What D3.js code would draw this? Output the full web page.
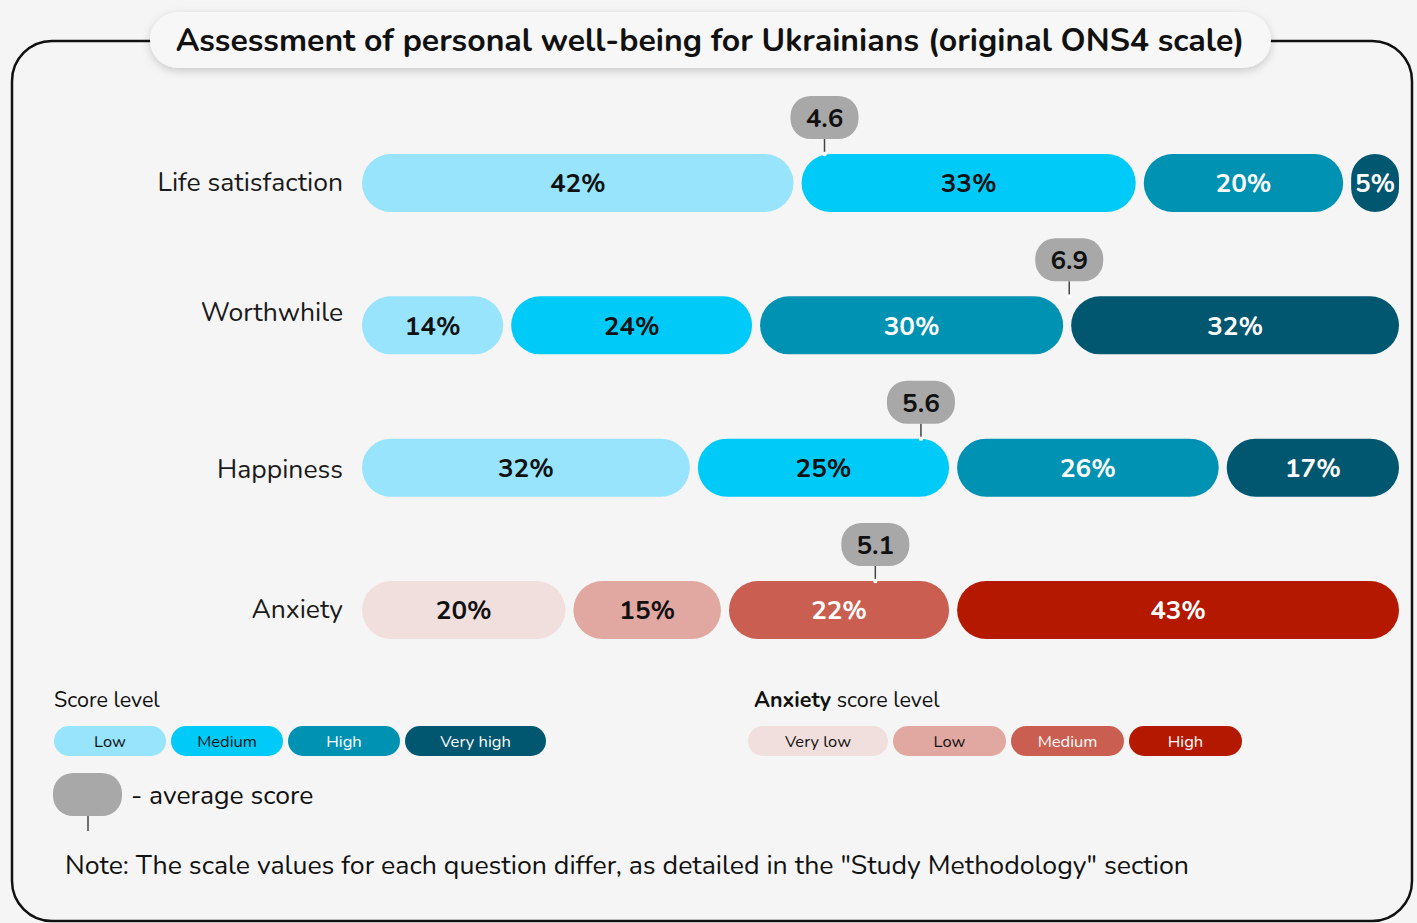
<!DOCTYPE html>
<html>
<head>
<meta charset="utf-8">
<script src="https://cdn.jsdelivr.net/npm/d3@7"></script>
<style>
  html, body { margin: 0; padding: 0; background: #f5f5f5; }
  svg { display: block; font-family: "Nunito", "Lato", "Noto Sans", sans-serif; }
</style>
</head>
<body>
<div id="chart"></div>
<script>
// Data ---------------------------------------------------
const questions = ["Life satisfaction", "Worthwhile", "Happiness", "Anxiety"]
const lifeShares = [42, 33, 20, 5]
const worthShares = [14, 24, 30, 32]
const happyShares = [32, 25, 26, 17]
const anxietyShares = [20, 15, 22, 43]
const averages = [4.6, 6.9, 5.6, 5.1]
// where the average badge points along the 0-100 bar
const pinAt = [44.6, 68.2, 53.9, 49.5]

const scoreLevels = ["Low", "Medium", "High", "Very high"]
const anxietyLevels = ["Very low", "Low", "Medium", "High"]
const scoreColors = ["#97e4fc", "#00cbf8", "#0092b3", "#015670"]
const anxietyColors = ["#f0dfdd", "#e1a8a1", "#ca5e50", "#b41900"]
const scoreInk = ["#111", "#111", "#fff", "#fff"]
const anxietyInk = ["#111", "#111", "#fff", "#fff"]

const titleText = "Assessment of personal well-being for Ukrainians (original ONS4 scale)"
const noteText = "Note: The scale values for each question differ, as detailed in the \"Study Methodology\" section"

// Canvas setup --------------------------------------------
const WIDTH = 1417, HEIGHT = 923
const BAR_H = 58, GAP = 8
const LABEL_SHIFT = [-2, -14, 1, -2]   // row labels don't sit exactly on bar centre in the original

const svg = d3.select("#chart").append("svg")
  .attr("width", WIDTH)
  .attr("height", HEIGHT)

const defs = svg.append("defs")
const shadow = defs.append("filter").attr("id", "shadow")
  .attr("x", "-5%").attr("y", "-40%").attr("width", "110%").attr("height", "200%")
shadow.append("feDropShadow")
  .attr("dx", 0).attr("dy", 3).attr("stdDeviation", 4)
  .attr("flood-color", "#000").attr("flood-opacity", 0.18)

svg.append("rect").attr("width", WIDTH).attr("height", HEIGHT).attr("fill", "#f5f5f5")

// frame
svg.append("rect")
  .attr("x", 12).attr("y", 41)
  .attr("width", 1400).attr("height", 880)
  .attr("rx", 40)
  .attr("fill", "none")
  .attr("stroke", "#111")
  .attr("stroke-width", 2.5)

// title pill
svg.append("rect")
  .attr("x", 150).attr("y", 12)
  .attr("width", 1121).attr("height", 56)
  .attr("rx", 28)
  .attr("fill", "#f7f7f7")
  .attr("filter", "url(#shadow)")

svg.append("text")
  .attr("x", 710).attr("y", 51)
  .attr("text-anchor", "middle")
  .attr("font-size", 32)
  .attr("font-weight", 700)
  .attr("fill", "#111")
  .text(titleText)

// Scales ---------------------------------------------------
const x = d3.scaleLinear().domain([0, 100]).range([362, 1399])
const y = d3.scalePoint().domain(questions).range([183, 610])

const rowData = [
  {q: questions[0], shares: lifeShares, colors: scoreColors, ink: scoreInk},
  {q: questions[1], shares: worthShares, colors: scoreColors, ink: scoreInk},
  {q: questions[2], shares: happyShares, colors: scoreColors, ink: scoreInk},
  {q: questions[3], shares: anxietyShares, colors: anxietyColors, ink: anxietyInk}
]

// segments with cumulative start/end
rowData.forEach(r => {
  let acc = 0
  r.segs = r.shares.map((v, i) => {
    const s = {v, start: acc, end: acc + v, i, n: r.shares.length, color: r.colors[i], ink: r.ink[i]}
    acc += v
    return s
  })
})

const rows = svg.selectAll("g.row")
  .data(rowData)
  .join("g")
  .attr("class", "row")
  .attr("transform", d => `translate(0,${y(d.q)})`)

rows.append("text")
  .attr("x", 343)
  .attr("y", (d, i) => LABEL_SHIFT[i])
  .attr("dy", "0.36em")
  .attr("text-anchor", "end")
  .attr("font-size", 26.5)
  .attr("fill", "#1a1a1a")
  .text(d => d.q)

const segX0 = s => x(s.start) + (s.i > 0 ? GAP / 2 : 0)
const segX1 = s => x(s.end) - (s.i < s.n - 1 ? GAP / 2 : 0)

const segs = rows.selectAll("g.seg")
  .data(d => d.segs)
  .join("g")
  .attr("class", "seg")

segs.append("rect")
  .attr("x", segX0)
  .attr("y", -BAR_H / 2)
  .attr("width", s => segX1(s) - segX0(s))
  .attr("height", BAR_H)
  .attr("rx", s => Math.min(BAR_H / 2, (segX1(s) - segX0(s)) / 2))
  .attr("fill", s => s.color)

segs.append("text")
  .attr("x", s => (segX0(s) + segX1(s)) / 2)
  .attr("y", 0)
  .attr("dy", "0.36em")
  .attr("text-anchor", "middle")
  .attr("font-size", 26)
  .attr("font-weight", 700)
  .attr("fill", s => s.ink)
  .text(s => s.v + "%")

// average badges
const badgeW = 68, badgeH = 43, pinLen = 15
const badges = rows.append("g")
  .attr("transform", (d, i) => `translate(${x(pinAt[i])},${-BAR_H / 2})`)

badges.append("line")
  .attr("y1", -pinLen).attr("y2", 0)
  .attr("stroke", "#444").attr("stroke-width", 1.5)

badges.append("circle")
  .attr("r", 2.2)
  .attr("fill", "#fff")

badges.append("rect")
  .attr("x", -badgeW / 2)
  .attr("y", -pinLen - badgeH)
  .attr("width", badgeW).attr("height", badgeH)
  .attr("rx", 20)
  .attr("fill", "#a8a8a8")

badges.append("text")
  .attr("y", -pinLen - badgeH / 2)
  .attr("dy", "0.36em")
  .attr("text-anchor", "middle")
  .attr("font-size", 26)
  .attr("font-weight", 700)
  .attr("fill", "#111")
  .text((d, i) => averages[i].toFixed(1))

// Legends ---------------------------------------------------
function legend(gx, title, boldWord, levels, colors, ink, widths) {
  const g = svg.append("g").attr("transform", `translate(${gx},0)`)
  const t = g.append("text")
    .attr("x", boldWord ? 6 : 0).attr("y", 707)
    .attr("font-size", 21.5)
    .attr("fill", "#111")
  if (boldWord) t.append("tspan").attr("font-weight", 700).text(boldWord)
  t.append("tspan").text(title)

  let acc = 0
  const pos = widths.map(w => { const p = acc; acc += w + 5; return p })
  const item = g.selectAll("g.item")
    .data(levels)
    .join("g")
    .attr("transform", (d, i) => `translate(${pos[i]},726)`)
  item.append("rect")
    .attr("width", (d, i) => widths[i])
    .attr("height", 30)
    .attr("rx", 15)
    .attr("fill", (d, i) => colors[i])
  item.append("text")
    .attr("x", (d, i) => widths[i] / 2)
    .attr("y", 15)
    .attr("dy", "0.36em")
    .attr("text-anchor", "middle")
    .attr("font-size", 16.5)
    .attr("fill", (d, i) => ink[i])
    .text(d => d)
}

legend(54, "Score level", null, scoreLevels, scoreColors, scoreInk, [112, 112, 112, 141])
legend(748, " score level", "Anxiety", anxietyLevels, anxietyColors, anxietyInk, [140, 113, 113, 113])

// average score key
const key = svg.append("g").attr("transform", "translate(53,773)")
key.append("line")
  .attr("x1", 35).attr("x2", 35)
  .attr("y1", 43).attr("y2", 58)
  .attr("stroke", "#444").attr("stroke-width", 1.5)
key.append("rect")
  .attr("width", 69).attr("height", 43)
  .attr("rx", 20)
  .attr("fill", "#a8a8a8")
key.append("text")
  .attr("x", 78).attr("y", 31)
  .attr("font-size", 26.5)
  .attr("fill", "#111")
  .text("- average score")

// note
svg.append("text")
  .attr("x", 65).attr("y", 874)
  .attr("font-size", 26.7)
  .attr("fill", "#111")
  .text(noteText)
</script>
</body>
</html>
